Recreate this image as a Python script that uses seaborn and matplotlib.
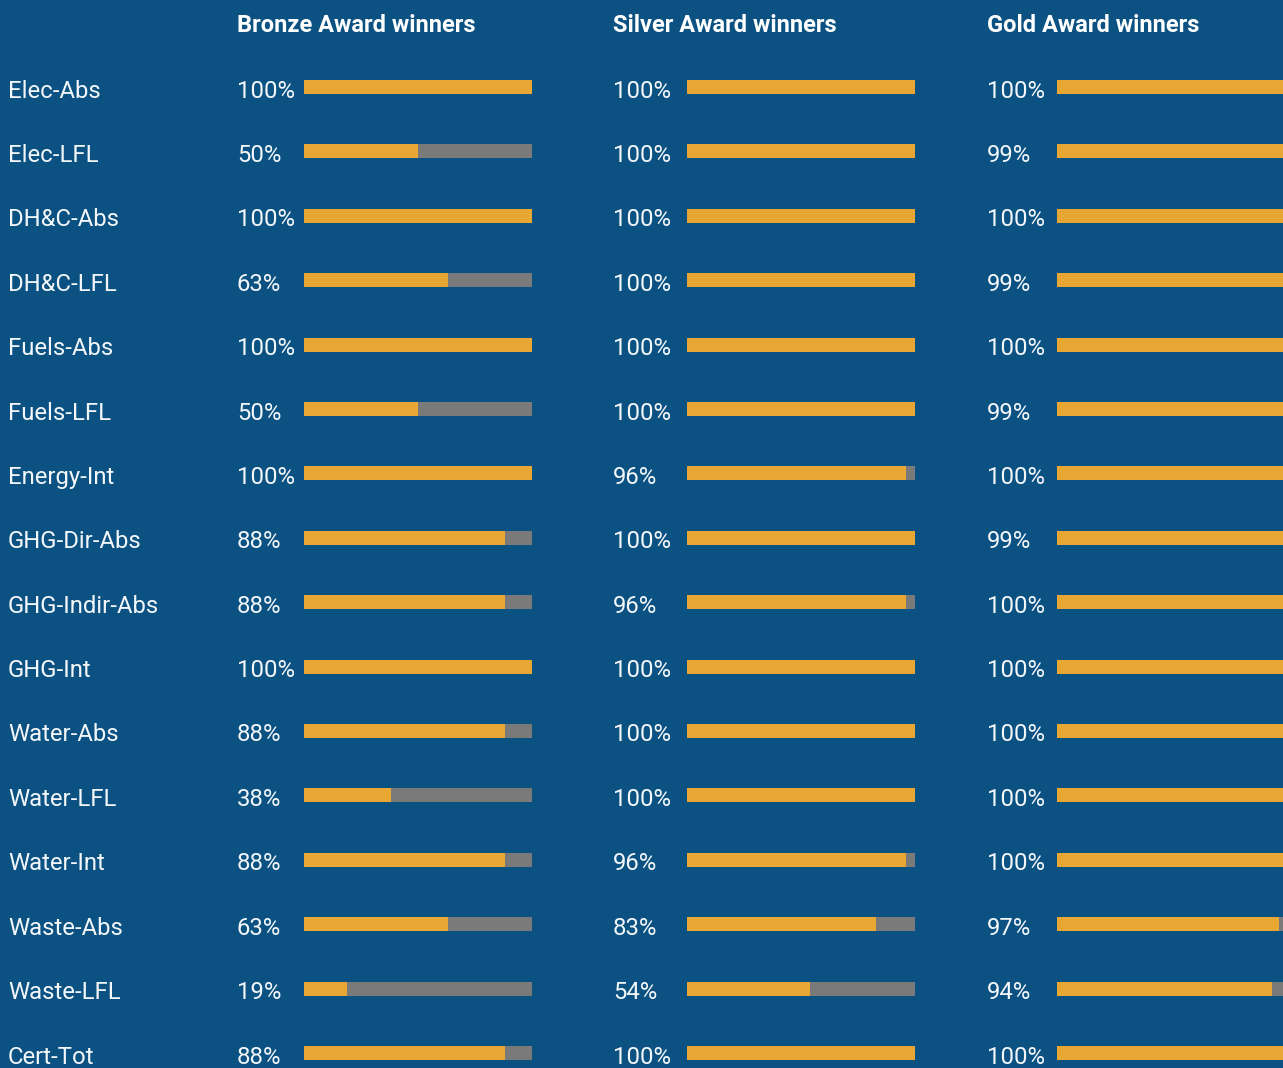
import matplotlib
matplotlib.use("Agg")
import matplotlib.pyplot as plt
import matplotlib.transforms as mtransforms
import pandas as pd
import seaborn as sns

# categories (rows, top to bottom)
metrics = ['Elec-Abs', 'Elec-LFL', 'DH&C-Abs', 'DH&C-LFL', 'Fuels-Abs', 'Fuels-LFL',
           'Energy-Int', 'GHG-Dir-Abs', 'GHG-Indir-Abs', 'GHG-Int', 'Water-Abs',
           'Water-LFL', 'Water-Int', 'Waste-Abs', 'Waste-LFL', 'Cert-Tot']

# share of award winners reporting each metric (%)
bronze = [100, 50, 100, 63, 100, 50, 100, 88, 88, 100, 88, 38, 88, 63, 19, 88]
silver = [100, 100, 100, 100, 100, 100, 96, 100, 96, 100, 100, 100, 96, 83, 54, 100]
gold = [100, 99, 100, 99, 100, 99, 100, 99, 100, 100, 100, 100, 100, 97, 94, 100]

titles = ['Bronze Award winners', 'Silver Award winners', 'Gold Award winners']

BG = '#0b5283'
ORANGE = '#e8a633'
GREY = '#7a7a7a'
TXT = '#f4f7fa'

sns.set_style('white')
plt.rcParams['font.family'] = ['Roboto', 'DejaVu Sans']

W, H = 1283, 1068
fig = plt.figure(figsize=(W / 100, H / 100), dpi=100, facecolor=BG)

df = pd.DataFrame({'metric': metrics, 'Bronze': bronze, 'Silver': silver, 'Gold': gold})
df['full'] = 100

# column layout in pixels: (label x, bar left, bar right)
cols = [(237, 304, 532), (613, 687, 915), (987, 1057, 1286)]
row0, step = 87, 64.4

for (lab_x, x0, x1), key, title in zip(cols, ['Bronze', 'Silver', 'Gold'], titles):
    ax = fig.add_axes([x0 / W, 0, (x1 - x0) / W, 1])
    ax.set_facecolor(BG)
    sns.barplot(data=df, x='full', y='metric', color=GREY, orient='h',
                width=0.22, saturation=1, linewidth=0, ax=ax)
    sns.barplot(data=df, x=key, y='metric', color=ORANGE, orient='h',
                width=0.22, saturation=1, linewidth=0, ax=ax)
    ax.set_xlim(0, 100)
    ax.set_ylim(len(metrics) - 1 + (H - (row0 + step * (len(metrics) - 1))) / step,
                -row0 / step)
    ax.axis('off')

    tr = mtransforms.blended_transform_factory(fig.transFigure, ax.transData)
    tr = mtransforms.offset_copy(tr, fig=fig, y=-4, units='dots')
    for i, v in enumerate(df[key]):
        ax.text(lab_x / W, i, f'{v}%', transform=tr, ha='left', va='center',
                fontsize=17.2, color=TXT)
    fig.text(lab_x / W, 1 - 25 / H, title, ha='left', va='center',
             fontsize=17, color='white', fontweight='bold')

    if key == 'Bronze':
        for i, m in enumerate(metrics):
            ax.text(8 / W, i, m, transform=tr, ha='left', va='center',
                    fontsize=17.2, color=TXT)

fig.savefig('out.png', dpi=100, facecolor=BG)
